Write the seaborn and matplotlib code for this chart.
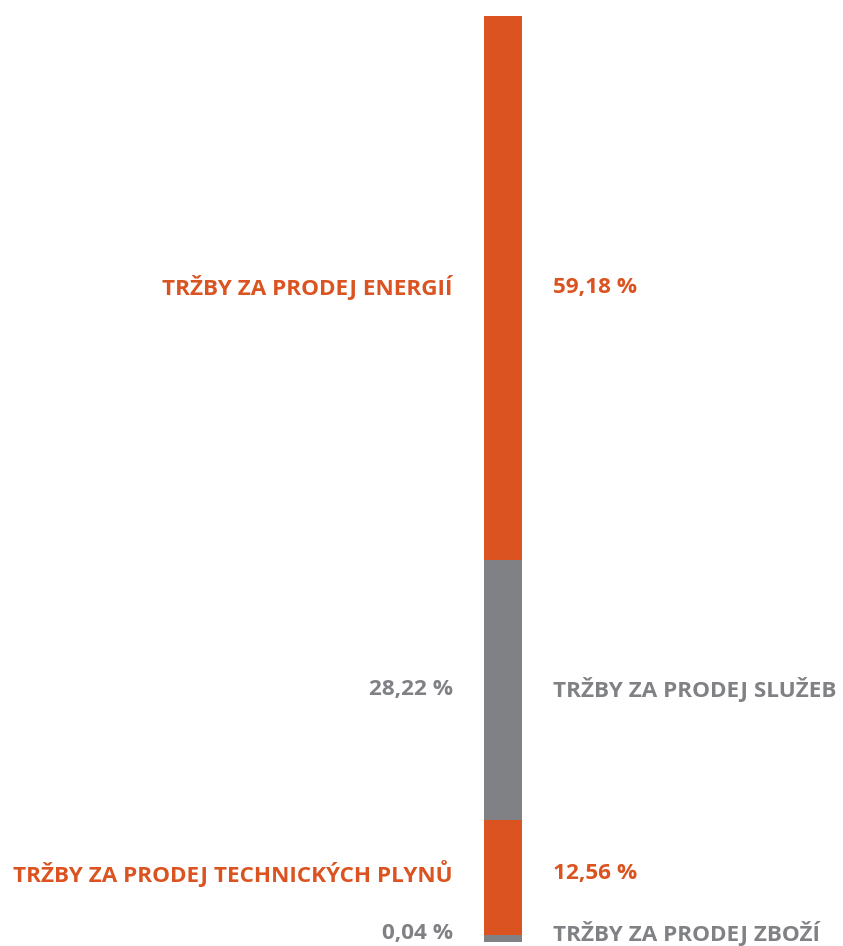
import matplotlib
matplotlib.use("Agg")
import matplotlib.pyplot as plt
import seaborn as sns
import pandas as pd

# revenue structure, bottom to top of the bar
categories = [
    "TRŽBY ZA PRODEJ ZBOŽÍ",
    "TRŽBY ZA PRODEJ TECHNICKÝCH PLYNŮ",
    "TRŽBY ZA PRODEJ SLUŽEB",
    "TRŽBY ZA PRODEJ ENERGIÍ",
]
shares = [0.04, 12.56, 28.22, 59.18]
value_labels = ["0,04 %", "12,56 %", "28,22 %", "59,18 %"]
# which side the category name sits on
name_side = ["right", "left", "right", "left"]

ORANGE = "#da5320"
GRAY = "#808184"
colors = [GRAY, ORANGE, GRAY, ORANGE]
min_visible = 0.75  # tiny shares still get a visible sliver
nudge_px = [5, 4, 0, 1]  # lift the crowded bottom labels a little
FS = 16.2

sns.set_theme(style="white")
plt.rcParams["font.family"] = ["Open Sans", "DejaVu Sans"]

df = pd.DataFrame({"category": categories, "share": shares, "color": colors})
df["shown"] = df["share"].clip(lower=min_visible)
df["bottom"] = df["shown"].cumsum() - df["shown"]
df["mid"] = df["bottom"] + df["shown"] / 2

fig = plt.figure(figsize=(8.43, 9.46), dpi=100)
ax = fig.add_axes([484 / 843, 4 / 946, 38 / 843, 926 / 946])

for _, row in df.iterrows():
    ax.bar(0, row["shown"], bottom=row["bottom"], width=1.0,
           color=row["color"], linewidth=0)

ax.set_xlim(-0.5, 0.5)
ax.set_ylim(0, df["shown"].sum())
ax.axis("off")

for i, row in df.iterrows():
    c = row["color"]
    if name_side[i] == "left":
        left_txt, right_txt = row["category"], value_labels[i]
    else:
        left_txt, right_txt = value_labels[i], row["category"]
    ax.annotate(left_txt, xy=(-0.5, row["mid"]), xytext=(-31, nudge_px[i]),
                textcoords="offset pixels", ha="right", va="center",
                fontsize=FS, fontweight="bold", color=c,
                annotation_clip=False)
    ax.annotate(right_txt, xy=(0.5, row["mid"]), xytext=(31, nudge_px[i]),
                textcoords="offset pixels", ha="left", va="center",
                fontsize=FS, fontweight="bold", color=c,
                annotation_clip=False)

fig.savefig("out.png", dpi=100)
